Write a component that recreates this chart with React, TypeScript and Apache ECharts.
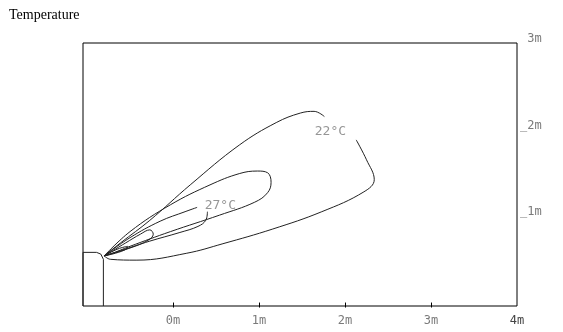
import React, { useEffect, useRef } from "react";
import * as echarts from "echarts";

const xTickValues = [0, 1, 2, 3];
const xLabelValues = [0, 1, 2, 3, 4];
const yLabelValues = [1, 2, 3];

const contour22Upper = [[-0.80, 0.54], [-0.61, 0.69], [-0.27, 0.95], [0.20, 1.36], [0.77, 1.82], [1.20, 2.08], [1.48, 2.19], [1.64, 2.21], [1.76, 2.15]];
const contour22Lower = [[2.13, 1.88], [2.25, 1.65], [2.34, 1.42], [2.22, 1.28], [1.73, 1.05], [1.16, 0.85], [0.58, 0.68], [0.16, 0.57], [-0.42, 0.49], [-0.73, 0.50], [-0.80, 0.54]];
const contourMiddle = [[-0.80, 0.54], [-0.50, 0.82], [-0.03, 1.13], [0.43, 1.36], [0.77, 1.49], [0.98, 1.52], [1.10, 1.50], [1.14, 1.39], [1.10, 1.27], [0.95, 1.16], [0.54, 1.01], [-0.03, 0.82], [-0.50, 0.65], [-0.73, 0.56], [-0.80, 0.54]];
const contour27Upper = [[-0.80, 0.54], [-0.50, 0.75], [-0.15, 0.94], [0.14, 1.05], [0.28, 1.10]];
const contour27Lower = [[0.40, 1.05], [0.38, 0.95], [0.29, 0.88], [0.08, 0.81], [-0.27, 0.71], [-0.61, 0.60], [-0.80, 0.54]];
const contourInner = [[-0.80, 0.54], [-0.55, 0.69], [-0.38, 0.79], [-0.27, 0.84], [-0.23, 0.79], [-0.29, 0.72], [-0.50, 0.63], [-0.80, 0.54]];
const contourCore = [[-0.80, 0.54], [-0.64, 0.62], [-0.53, 0.65], [-0.54, 0.62], [-0.67, 0.57], [-0.80, 0.54]];
const obstacle = [[-1.047, -0.04], [-1.047, 0.58], [-0.89, 0.58], [-0.84, 0.56], [-0.81, 0.50], [-0.81, -0.04]];

const labelNames = ["22°C", "27°C"];
const labelPositions = [[1.83, 1.99], [0.55, 1.13]];

const lineColor = "#222";
const labelColor = "#7a7a7a";
const plotFont = "DejaVu Sans Mono";

function contour(data: number[][], smooth: number | boolean = 0.4) {
  return {
    type: "line",
    data,
    smooth,
    showSymbol: false,
    symbol: "none",
    lineStyle: { color: lineColor, width: 1 },
    silent: true,
  };
}

export default function App() {
  const ref = useRef<HTMLDivElement>(null);
  useEffect(() => {
    if (!ref.current) return;
    const chart = echarts.init(ref.current, undefined, { renderer: "svg" });
    chart.setOption({
      animation: false,
      title: {
        text: "Temperature",
        left: 4,
        top: 2,
        textStyle: { fontFamily: "Liberation Serif", fontSize: 14, fontWeight: "normal", color: "#000" },
      },
      grid: {
        left: 83,
        top: 43,
        width: 434,
        height: 263,
        show: true,
        borderColor: "#000",
        borderWidth: 1,
        backgroundColor: "transparent",
      },
      xAxis: {
        type: "value",
        min: -1.047,
        max: 4,
        splitLine: { show: false },
        axisLine: { show: false },
        axisTick: { show: true, customValues: xTickValues, length: 5, lineStyle: { color: "#000" } },
        axisLabel: {
          customValues: xLabelValues,
          formatter: (v: number) => (v === 4 ? "{d|" + v + "m}" : v + "m"),
          color: labelColor,
          fontFamily: plotFont,
          fontSize: 12,
          margin: 8,
          showMaxLabel: true,
          rich: { d: { color: "#444", fontFamily: plotFont, fontSize: 12 } },
        },
      },
      yAxis: {
        type: "value",
        position: "right",
        min: -0.04,
        max: 3,
        splitLine: { show: false },
        axisLine: { show: false },
        axisTick: { show: false },
        axisLabel: {
          customValues: yLabelValues,
          formatter: (v: number) => (v === 3 ? " 3m" : "_" + v + "m"),
          color: labelColor,
          fontFamily: plotFont,
          fontSize: 12,
          margin: 3,
          verticalAlign: "bottom",
          lineHeight: 10,
          showMaxLabel: true,
        },
      },
      series: [
        contour(obstacle, false),
        contour(contour22Upper),
        contour(contour22Lower),
        contour(contourMiddle),
        contour(contour27Upper),
        contour(contour27Lower),
        contour(contourInner),
        contour(contourCore),
        {
          type: "scatter",
          symbolSize: 0,
          silent: true,
          data: labelNames.map((n, i) => ({ name: n, value: labelPositions[i] })),
          label: {
            show: true,
            position: "inside",
            formatter: (p: any) => p.name,
            color: labelColor,
            fontFamily: plotFont,
            fontSize: 13,
          },
        },
      ],
    });
    return () => chart.dispose();
  }, []);
  return <div ref={ref} style={{ position: "fixed", left: 0, top: 0, width: 563, height: 332 }} />;
}
